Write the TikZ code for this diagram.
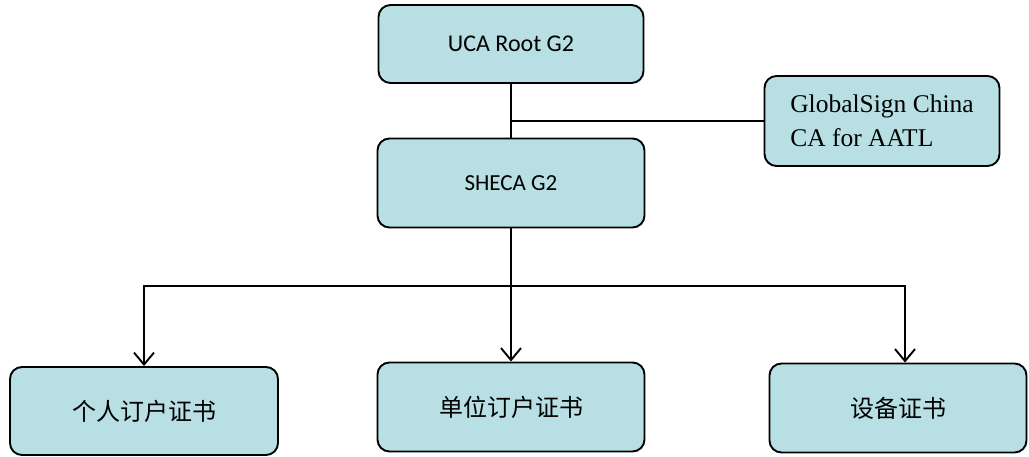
\documentclass[tikz,border=0pt]{standalone}
\usepackage{fontspec}
\setmainfont{Liberation Serif}
\newfontfamily\cali{Carlito}
\newfontfamily\cjk{Noto Sans CJK SC}
\usepackage{tikz}
\usetikzlibrary{arrows.meta}
\definecolor{boxfill}{RGB}{184,223,227}

\begin{document}
\begin{tikzpicture}[x=1pt,y=1pt,line width=1.9pt,
  ca/.style={rectangle,draw,fill=boxfill,rounded corners=12pt,inner sep=0pt,align=center,font=\fontsize{24}{30}\selectfont},
  tip/.style={-{Straight Barb[length=12pt,width=20pt,line width=1.9pt]}}]
  \useasboundingbox (0,0) rectangle (1029,457);
  \node[ca,minimum width=265pt,minimum height=78pt,font=\cali\fontsize{24}{30}\selectfont] (uca) at (511,413) {UCA Root G2};
  \node[ca,minimum width=267pt,minimum height=89pt,font=\cali\fontsize{23}{30}\selectfont] (sheca) at (511,274) {SHECA G2};
  \node[ca,minimum width=235pt,minimum height=90pt,align=left,font=\fontsize{25.5}{34}\selectfont] (gs) at (882,336) {GlobalSign China\\CA for AATL};

  \node[ca,minimum width=268pt,minimum height=88pt,font=\cjk\fontsize{24}{30}\selectfont] (pers) at (144,46) {个人订户证书};
  \node[ca,minimum width=267pt,minimum height=89pt,font=\cjk\fontsize{24}{30}\selectfont] (unit) at (511,50) {单位订户证书};
  \node[ca,minimum width=257pt,minimum height=89pt,font=\cjk\fontsize{24}{30}\selectfont] (dev) at (898,49) {设备证书};

  \draw (uca) -- (sheca);
  \draw (gs.west) -- (gs.west -| uca.south);

  \coordinate (bus) at (511,171);
  \draw (sheca.south) -- (bus);
  \draw[tip] (bus) -| (pers.north);
  \draw[tip] (bus) -- (unit.north);
  \draw[tip] (bus) -| ([xshift=7pt]dev.north);
\end{tikzpicture}
\end{document}
